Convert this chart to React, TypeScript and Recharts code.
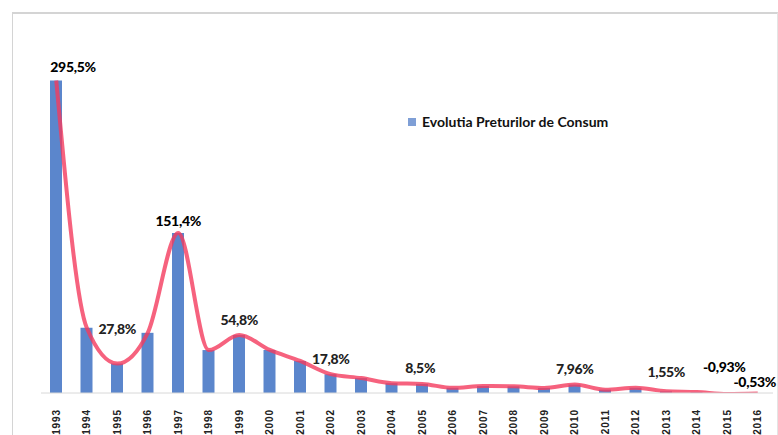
import React from "react";
import { ComposedChart, Bar, Line, XAxis, YAxis, LabelList } from "recharts";

const years = ["1993","1994","1995","1996","1997","1998","1999","2000","2001","2002","2003","2004","2005","2006","2007","2008","2009","2010","2011","2012","2013","2014","2015","2016"];
const cpi = [295.5,61.7,27.8,56.9,151.4,40.6,54.8,40.7,30.3,17.8,14.1,9.3,8.6,4.87,6.57,6.3,4.74,7.96,3.14,4.95,1.55,0.83,-0.93,-0.53];
const pointLabels = ["295,5%","","27,8%","","151,4%","","54,8%","","","17,8%","","","8,5%","","","","","7,96%","","","1,55%","","-0,93%","-0,53%"];
const seriesName = "Evolutia Preturilor de Consum";

const data = years.map((y, i) => ({ year: y, cpi: cpi[i], label: pointLabels[i] }));

const labelStyle: Record<string, { dx: number; dy: number; anchor: string; color: string }> = {
  "1993": { dx: -6, dy: -8, anchor: "start", color: "#000" },
  "1995": { dx: 0, dy: -30, anchor: "middle", color: "#222" },
  "1997": { dx: 0, dy: -7, anchor: "middle", color: "#000" },
  "1999": { dx: 0, dy: -10, anchor: "middle", color: "#222" },
  "2002": { dx: 0, dy: -10, anchor: "middle", color: "#222" },
  "2005": { dx: -2, dy: -11, anchor: "middle", color: "#222" },
  "2010": { dx: 0, dy: -11, anchor: "middle", color: "#222" },
  "2013": { dx: 0, dy: -14, anchor: "middle", color: "#222" },
  "2015": { dx: -3, dy: -22, anchor: "middle", color: "#000" },
  "2016": { dx: -3, dy: -7, anchor: "middle", color: "#000" },
};

const PointLabel = (props: any) => {
  const { x, y, index } = props;
  const d = data[index];
  if (!d || !d.label) return null;
  const s = labelStyle[d.year] || { dx: 0, dy: -10, anchor: "middle", color: "#222" };
  return (
    <text x={x + s.dx} y={y + s.dy} textAnchor={s.anchor as any} fontFamily="Lato, 'Open Sans', sans-serif" fontWeight={900} fontSize={14} fill={s.color} letterSpacing={-0.3}>
      {d.label}
    </text>
  );
};

const YearTick = (props: any) => {
  const { x, y, payload } = props;
  return (
    <text x={x} y={y} transform={`rotate(-90, ${x}, ${y})`} dx={-8} dy={3.5} textAnchor="end" fontFamily="'Liberation Sans', Arial, sans-serif" fontWeight={700} fontSize={10} fill="#222" letterSpacing={0.9}>
      {payload.value}
    </text>
  );
};

export default function App() {
  return (
    <div style={{ position: "absolute", left: 0, top: 0, width: 778, height: 435, background: "#fff", overflow: "hidden" }}>
      <div style={{ position: "absolute", left: 12, top: 12, width: 764, height: 425, borderTop: "2px solid #d4d4d4", borderLeft: "1px solid #d4d4d4", borderRight: "1px solid #e4e4e4" }} />
      <ComposedChart width={778} height={435} data={data} margin={{ top: 44, right: 5, bottom: 0, left: 41 }} style={{ position: "absolute", left: 0, top: 0 }}>
        <XAxis dataKey="year" interval={0} height={42} tick={<YearTick />} tickLine={false} axisLine={{ stroke: "#d8d8d8" }} />
        <YAxis width={0} domain={[0, 330]} allowDataOverflow tick={false} tickLine={false} axisLine={{ stroke: "#e0e0e0" }} />
        <Bar dataKey="cpi" name={seriesName} fill="#5b86cc" barSize={12} isAnimationActive={false} />
        <Line dataKey="cpi" type="monotone" stroke="#f43b5e" strokeOpacity={0.8} strokeWidth={4} dot={false} isAnimationActive={false} legendType="none">
          <LabelList dataKey="label" content={<PointLabel />} />
        </Line>
      </ComposedChart>
      <div style={{ position: "absolute", left: 408, top: 113, display: "flex", alignItems: "center", fontFamily: "Lato, sans-serif", fontWeight: 700, fontSize: 14, color: "#111", whiteSpace: "nowrap" }}>
        <span style={{ display: "inline-block", width: 8, height: 8, background: "#7f9fd6", marginRight: 6 }} />
        {seriesName}
      </div>
    </div>
  );
}
